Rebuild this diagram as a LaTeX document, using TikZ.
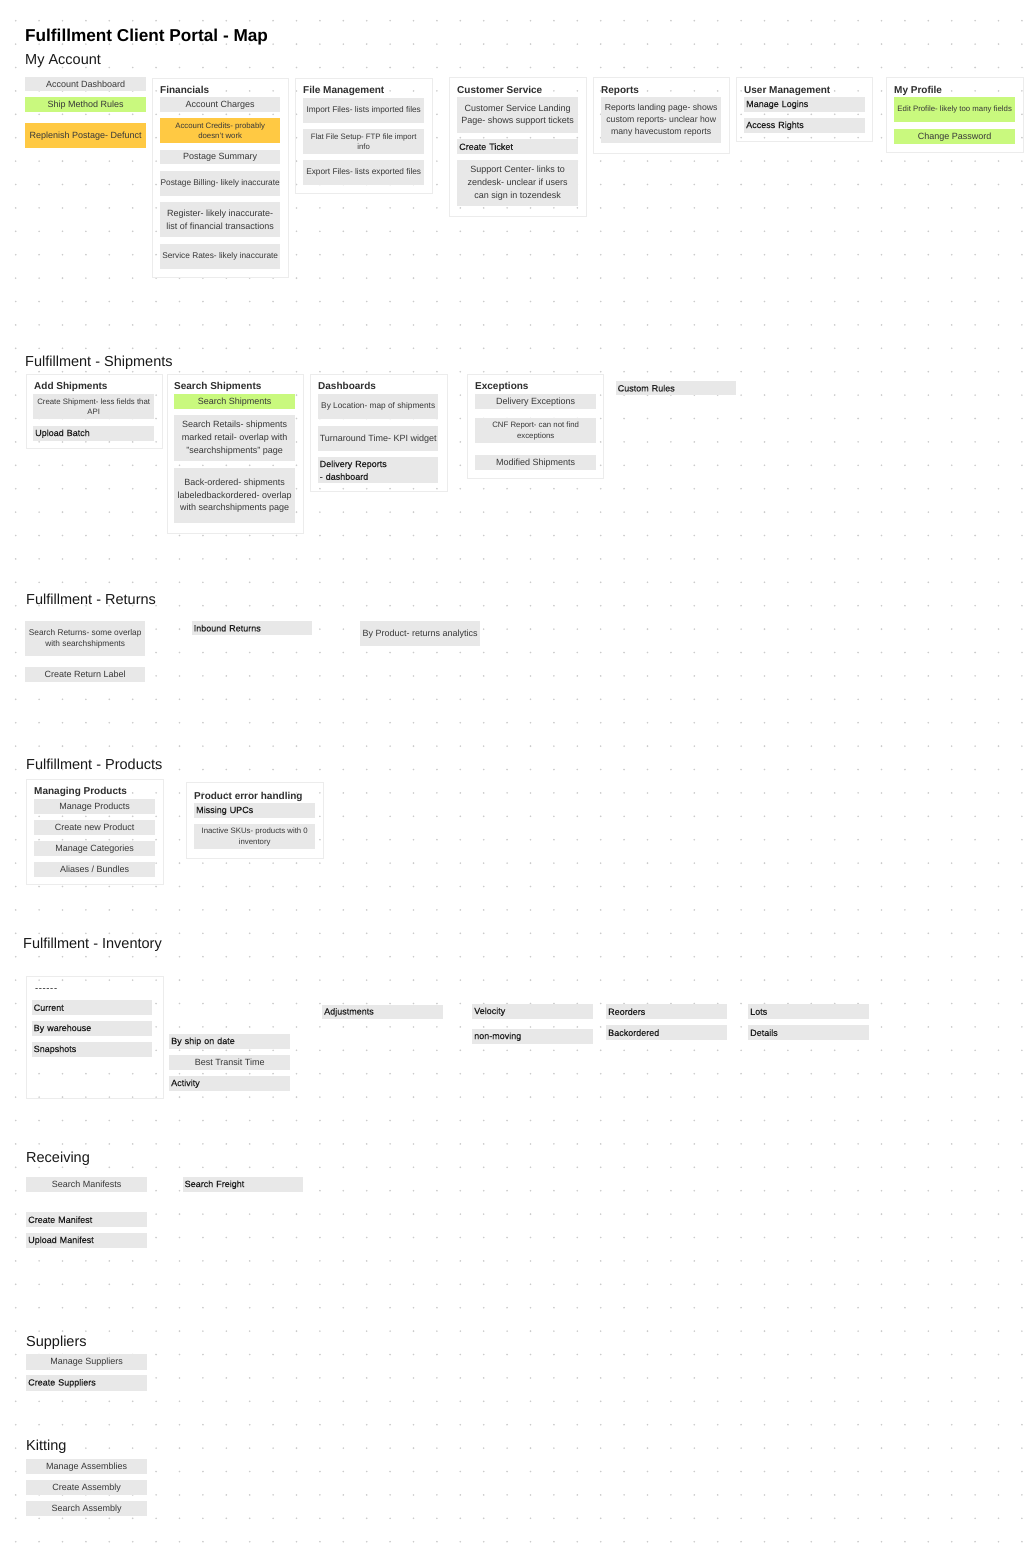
\documentclass[tikz,border=0pt]{standalone}
\usepackage{fontspec}
\setmainfont{Liberation Sans}
\newfontfamily\mediumfont{Liberation Sans}[FakeBold=0.4]

\definecolor{boxgray}{HTML}{E8E8E8}
\definecolor{stickylime}{HTML}{C9F97E}
\definecolor{stickyorange}{HTML}{FFC943}
\definecolor{framegray}{HTML}{ECECEC}
\definecolor{dotgray}{HTML}{CBCBCB}
\definecolor{boxtext}{HTML}{383838}
\definecolor{boxdark}{HTML}{1F1F1F}
\definecolor{headtext}{HTML}{2E2E2E}

\tikzset{
    box/.style={anchor=north west, fill=boxgray, inner sep=0pt, minimum width=121pt, minimum height=15pt, align=center, text=boxtext, font=\fontsize{9}{12.7}\selectfont},
    boxleft/.style={box, text width=117pt, align=left, text=boxdark, font=\mediumfont\fontsize{9}{12.7}\selectfont},
    smalltext/.style={font=\fontsize{7.8}{10.8}\selectfont},
    midtext/.style={font=\fontsize{8.3}{11.5}\selectfont},
    limebox/.style={fill=stickylime},
    orangebox/.style={fill=stickyorange},
    frame/.style={anchor=north west, draw=framegray, line width=0.8pt, inner sep=0pt},
    grouphead/.style={anchor=base west, inner sep=0pt, text=headtext, font=\bfseries\fontsize{10}{12}\selectfont},
    sectionhead/.style={anchor=base west, inner sep=0pt, text=black!90, font=\fontsize{14.5}{17}\selectfont},
}

\begin{document}
\begin{tikzpicture}[x=1pt, y=-1pt]
    \useasboundingbox (0,0) rectangle (1029,1556);
    \fill[white] (0,0) rectangle (1029,1556);
    % dotted canvas
    \foreach \col in {0,...,43}
        \foreach \row in {0,...,65}
            \fill[dotgray] (15.7+23.4*\col, 20.7+23.4*\row) circle (0.9);

    % group frames
    \begin{scope}
        \node[frame, minimum width=136pt, minimum height=199pt] (finFrame) at (152,78) {};
        \node[frame, minimum width=137pt, minimum height=115pt] (fileFrame) at (295,78) {};
        \node[frame, minimum width=137pt, minimum height=139pt] (csFrame) at (449,77) {};
        \node[frame, minimum width=136pt, minimum height=76pt] (repFrame) at (593,77) {};
        \node[frame, minimum width=136pt, minimum height=64pt] (userFrame) at (736,77) {};
        \node[frame, minimum width=137pt, minimum height=75pt] (profFrame) at (886,77) {};
        \node[frame, minimum width=136pt, minimum height=74pt] (addFrame) at (26,374) {};
        \node[frame, minimum width=136pt, minimum height=159pt] (searchFrame) at (167,374) {};
        \node[frame, minimum width=137pt, minimum height=117pt] (dashFrame) at (310,374) {};
        \node[frame, minimum width=136pt, minimum height=104pt] (excFrame) at (467,374) {};
        \node[frame, minimum width=137pt, minimum height=105pt] (manageFrame) at (26,779) {};
        \node[frame, minimum width=137pt, minimum height=76pt] (errorFrame) at (186,782) {};
        \node[frame, minimum width=137pt, minimum height=122pt] (invFrame) at (26,976) {};
    \end{scope}

    % titles
    \node[anchor=base west, inner sep=0pt, font=\bfseries\fontsize{17.2}{20}\selectfont] (title) at (25,41) {Fulfillment Client Portal - Map};
    \node[sectionhead] (myAccount) at (25,64) {My Account};
    \node[sectionhead] (shipments) at (25,366) {Fulfillment - Shipments};
    \node[sectionhead] (returns) at (26,604) {Fulfillment - Returns};
    \node[sectionhead] (products) at (26,769.3) {Fulfillment - Products};
    \node[sectionhead] (inventory) at (23,948.7) {Fulfillment - Inventory};
    \node[sectionhead] (receiving) at (26,1162.7) {Receiving};
    \node[sectionhead] (suppliers) at (26,1346) {Suppliers};
    \node[sectionhead] (kitting) at (26,1450.7) {Kitting};

    \node[grouphead] (finHead) at (160,93.5) {Financials};
    \node[grouphead] (fileHead) at (303,93.5) {File Management};
    \node[grouphead] (csHead) at (457,93.5) {Customer Service};
    \node[grouphead] (repHead) at (601,93.5) {Reports};
    \node[grouphead] (userHead) at (744,93.5) {User Management};
    \node[grouphead] (profHead) at (894,93.5) {My Profile};
    \node[grouphead] (addHead) at (34,389.5) {Add Shipments};
    \node[grouphead] (searchHead) at (174,389.5) {Search Shipments};
    \node[grouphead] (dashHead) at (318,389.5) {Dashboards};
    \node[grouphead] (excHead) at (475,389.5) {Exceptions};
    \node[grouphead] (manageHead) at (34,794.3) {Managing Products};
    \node[grouphead] (errorHead) at (194,799.3) {Product error handling};

    % my account
    \node[box, minimum height=14pt] (accDash) at (25,77) {Account Dashboard};
    \node[box, limebox] (shipRules) at (25,97) {Ship Method Rules};
    \node[box, orangebox, minimum height=25pt] (replPostage) at (25,123) {Replenish Postage- Defunct};

    \node[box, minimum width=120pt] (accCharges) at (160,97) {Account Charges};
    \node[box, orangebox, smalltext, minimum width=120pt, minimum height=25pt] (accCredits) at (160,118) {Account Credits- probably\\doesn't work};
    \node[box, minimum width=120pt, minimum height=14pt] (postSummary) at (160,150) {Postage Summary};
    \node[box, midtext, minimum width=120pt, minimum height=25pt] (postBilling) at (160,171) {Postage Billing- likely inaccurate};
    \node[box, minimum width=120pt, minimum height=35pt] (register) at (160,202) {Register- likely inaccurate-\\list of financial transactions};
    \node[box, midtext, minimum width=120pt, minimum height=25pt] (servRates) at (160,244) {Service Rates- likely inaccurate};

    \node[box, midtext, minimum height=25pt] (importFiles) at (303,98) {Import Files- lists imported files};
    \node[box, smalltext, minimum height=25pt] (flatFile) at (303,129) {Flat File Setup- FTP file import\\info};
    \node[box, midtext, minimum height=25pt] (exportFiles) at (303,160) {Export Files- lists exported files};

    \node[box, minimum height=36pt] (csLanding) at (457,97) {Customer Service Landing\\Page- shows support tickets};
    \node[boxleft] (createTicket) at (457,139) {Create Ticket};
    \node[box, minimum height=46pt] (supportCenter) at (457,160) {Support Center- links to\\zendesk- unclear if users\\can sign in tozendesk};

    \node[box, minimum width=120pt, minimum height=46pt, font=\fontsize{8.7}{12.2}\selectfont] (repLanding) at (601,97) {Reports landing page- shows\\custom reports- unclear how\\many havecustom reports};

    \node[boxleft] (manageLogins) at (744,97) {Manage Logins};
    \node[boxleft] (accessRights) at (744,118) {Access Rights};

    \node[box, limebox, smalltext, minimum height=25pt] (editProfile) at (894,97) {Edit Profile- likely too many fields};
    \node[box, limebox] (changePassword) at (894,129) {Change Password};

    % shipments
    \node[box, smalltext, minimum height=25pt] (createShipment) at (33,394) {Create Shipment- less fields that\\API};
    \node[boxleft] (uploadBatch) at (33,426) {Upload Batch};

    \node[box, limebox] (searchShip) at (174,394) {Search Shipments};
    \node[box, minimum height=46pt] (searchRetails) at (174,415) {Search Retails- shipments\\marked retail- overlap with\\"searchshipments" page};
    \node[box, minimum height=55pt] (backOrdered) at (174,468) {Back-ordered- shipments\\labeledbackordered- overlap\\with searchshipments page};

    \node[box, midtext, minimum width=120pt, minimum height=25pt] (byLocation) at (318,394) {By Location- map of shipments};
    \node[box, minimum width=120pt, minimum height=25pt] (turnaround) at (318,426) {Turnaround Time- KPI widget};
    \node[boxleft, minimum width=120pt, minimum height=26pt] (deliveryReports) at (318,457) {Delivery Reports\\- dashboard};

    \node[box] (deliveryExc) at (475,394) {Delivery Exceptions};
    \node[box, smalltext, minimum height=25pt] (cnfReport) at (475,418) {CNF Report- can not find\\exceptions};
    \node[box] (modifiedShip) at (475,455) {Modified Shipments};

    \node[boxleft, minimum width=120pt, minimum height=14pt] (customRules) at (616,381) {Custom Rules};

    % returns
    \node[box, midtext, minimum width=120pt, minimum height=35pt] (searchReturns) at (25,621) {Search Returns- some overlap\\with searchshipments};
    \node[box, minimum width=120pt] (createReturnLabel) at (25,667) {Create Return Label};
    \node[boxleft, minimum width=120pt, minimum height=14pt] (inboundReturns) at (192,621) {Inbound Returns};
    \node[box, minimum width=120pt, minimum height=25pt] (byProduct) at (360,621) {By Product- returns analytics};

    % products
    \node[box] (manageProducts) at (34,799) {Manage Products};
    \node[box] (createProduct) at (34,820) {Create new Product};
    \node[box] (manageCategories) at (34,841) {Manage Categories};
    \node[box] (aliases) at (34,862) {Aliases / Bundles};

    \node[boxleft] (missingUPCs) at (194,803) {Missing UPCs};
    \node[box, smalltext, minimum height=25pt] (inactiveSKUs) at (194,824) {Inactive SKUs- products with 0\\inventory};

    % inventory
    \node[anchor=base west, inner sep=0pt, text=boxdark, font=\fontsize{9.5}{11}\selectfont] (invDash) at (35,991) {\mbox{-}\kern0.6pt\mbox{-}\kern0.6pt\mbox{-}\kern0.6pt\mbox{-}\kern0.6pt\mbox{-}\kern0.6pt\mbox{-}};
    \node[boxleft, minimum width=120pt] (current) at (32,1000) {Current};
    \node[boxleft, minimum width=120pt] (byWarehouse) at (32,1021) {By warehouse};
    \node[boxleft, minimum width=120pt] (snapshots) at (32,1042) {Snapshots};

    \node[boxleft] (byShipDate) at (169,1034) {By ship on date};
    \node[box] (bestTransit) at (169,1055) {Best Transit Time};
    \node[boxleft] (activity) at (169,1076) {Activity};

    \node[boxleft, minimum height=14pt] (adjustments) at (322,1005) {Adjustments};
    \node[boxleft] (velocity) at (472,1004) {Velocity};
    \node[boxleft] (nonMoving) at (472,1029) {non-moving};
    \node[boxleft] (reorders) at (606,1004) {Reorders};
    \node[boxleft] (backordered) at (606,1025) {Backordered};
    \node[boxleft] (lots) at (748,1004) {Lots};
    \node[boxleft] (details) at (748,1025) {Details};

    % receiving
    \node[box] (searchManifests) at (26,1177) {Search Manifests};
    \node[boxleft, minimum width=120pt] (searchFreight) at (183,1177) {Search Freight};
    \node[boxleft] (createManifest) at (26,1212) {Create Manifest};
    \node[boxleft] (uploadManifest) at (26,1233) {Upload Manifest};

    % suppliers
    \node[box, minimum height=16pt] (manageSuppliers) at (26,1354) {Manage Suppliers};
    \node[boxleft, minimum height=16pt] (createSuppliers) at (26,1375) {Create Suppliers};

    % kitting
    \node[box] (manageAssemblies) at (26,1459) {Manage Assemblies};
    \node[box] (createAssembly) at (26,1480) {Create Assembly};
    \node[box] (searchAssembly) at (26,1501) {Search Assembly};
\end{tikzpicture}
\end{document}
